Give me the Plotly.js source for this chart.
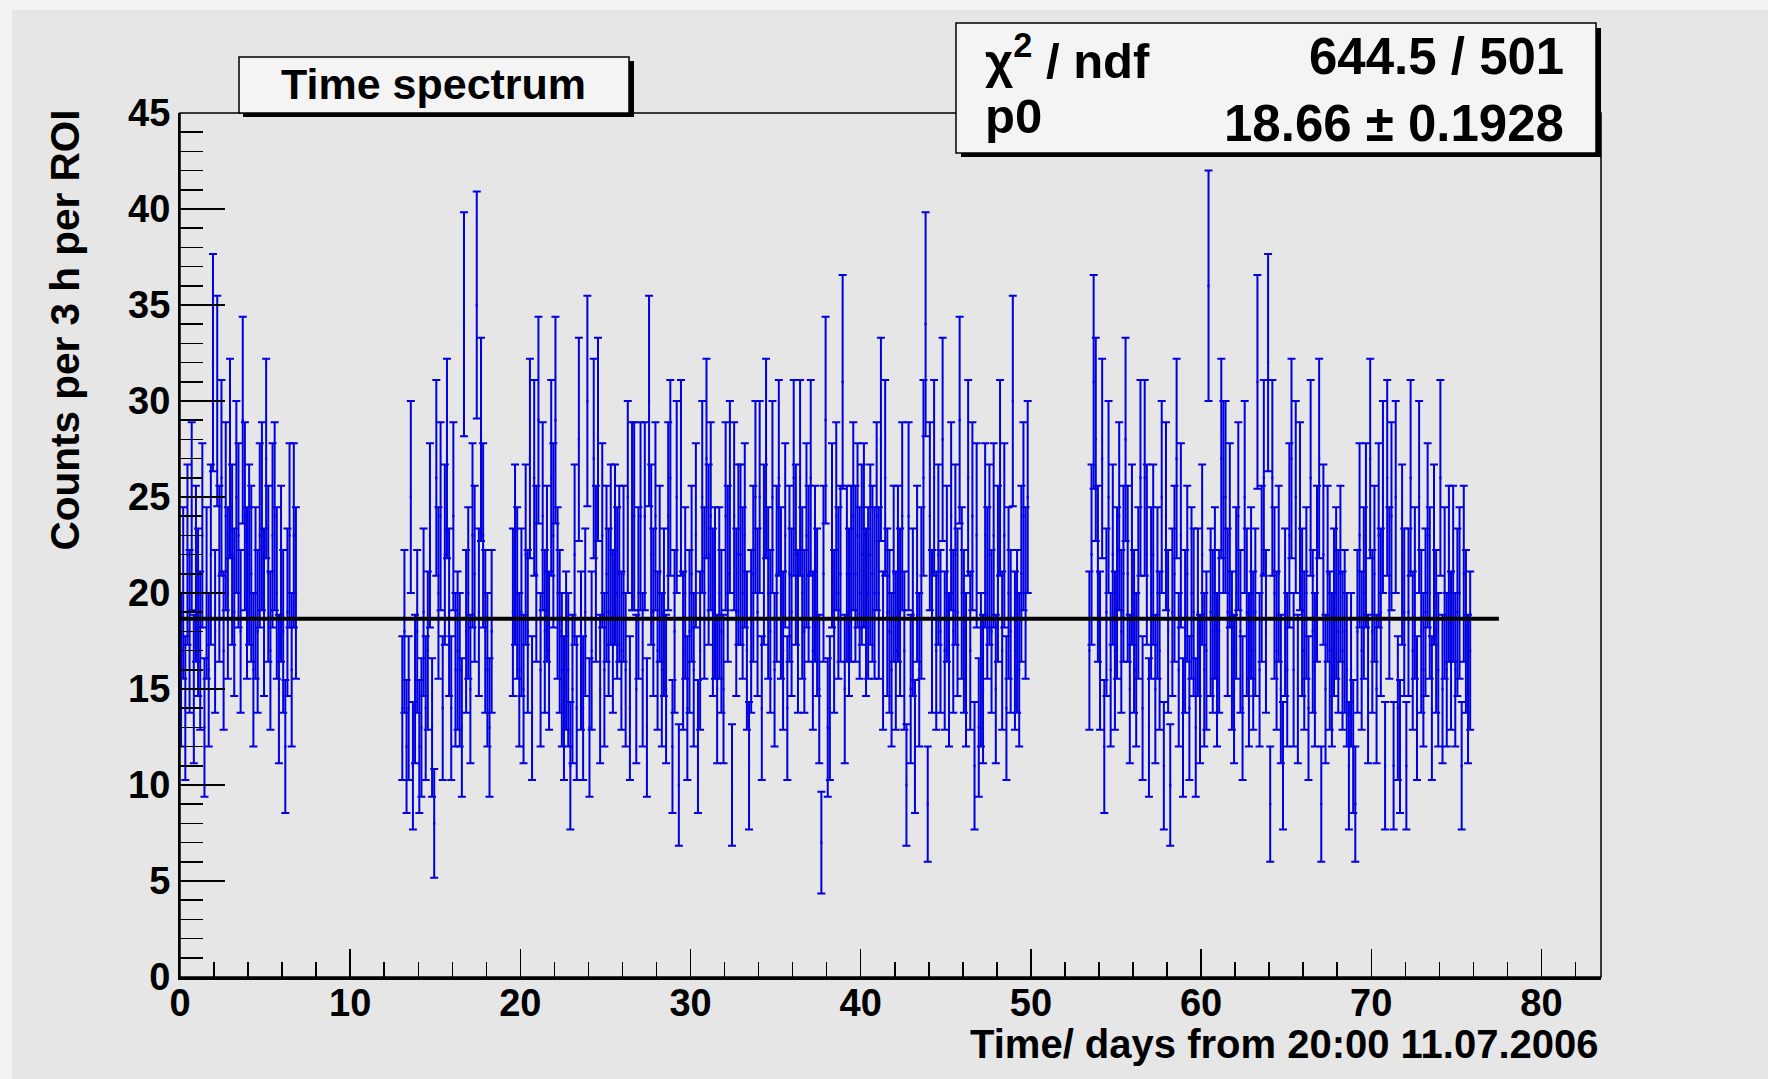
<!DOCTYPE html>
<html>
<head>
<meta charset="utf-8">
<script src="https://cdn.plot.ly/plotly-3.0.1.min.js"></script>
<style>
  html, body { margin: 0; padding: 0; background: #f3f3f3; width: 1768px; height: 1079px; overflow: hidden; }
  #chart { position: absolute; left: 12px; top: 10px; width: 1756px; height: 1069px; }
</style>
</head>
<body>
<div id="chart"></div>
<script>
// ---- Histogram definition (3 h bins) ----
const binWidthDays = 0.125;
// start day of each data-taking period
const segmentStarts = [0, 13.0, 19.5, 53.375];

// counts per 3 h bin (period 1: day 0 - 6.9)
const counts1 = [16,20,14,22,18,24,15,21,19,17, 23,13,20,16,22,32,18,30,21,26,
  17,24,20,27,22,19,25,23,18,29, 24,20,22,21,16,20,18,23,24,19,
  27,21,17,23,24,20,15,21,18,12, 19,23,16,23,20];
// period 2: day 13.0 - 18.4
const counts2 = [14,18,12,14,25,11,15,18,12,13, 19,14,17,23,13,8,26,20,24,14,
  22,27,19,14,24,16,17,16,13,34, 18,20,15,23,21,35,19,28,23,18, 16,13,18];
// period 3: day 19.5 - 49.9
const counts3 = [19,22,20,16,19,15,22,18,27,14, 26,21,29,16,24,18,21,17,26,23,
  29,20,18,16,14,17,16,11,15,22, 14,28,17,14,19,30,13,17,27,21,
  28,15,23,16,21,19,22,18,22,20, 21,17,21,16,25,14,24,24,15,20,
  24,16,24,13,30,22,19,24,17,21, 16,19,15,24,26,12,18,25,10,26,
  17,20,14,18,21,16,23,12,17,25, 20,27,22,24,19,20,15,20,18,15,
  24,21,25,10,24,19,22,22,20,23, 17,11,18,21,25,19,25,14,22,27,
  20,18,25,16,21,26,20,17,23,14, 21,19,26,22,18,26,20,18,23,21,
  26,17,21,19,15,7,21,29,13,14, 23,18,24,20,21,31,15,21,19,21,
  24,21,23,20,22,23,19,20,22,21, 20,24,20,28,17,26,19,18,16,21,
  17,21,19,24,17,10,24,15,19,12, 21,16,20,26,34,9,24,18,26,17,
  22,18,28,17,21,16,24,18,22,19, 29,20,18,16,26,17,24,11,23,13,
  16,15,23,20,22,18,23,15,21,26, 17,23,14,20,18,30,17,18,16,21,
  24,20,25];
// period 4: day 53.4 - 75.9
const counts4 = [17,22,31,28,21,17,27,12,19,25, 16,22,17,20,24,18,21,28,21,15,
  22,18,16,20,26,14,26,22,13,20, 22,15,20,17,25,11,24,18,10,19,
  21,27,16,23,13,18,21,14,20,19, 13,19,15,22,16,17,36,19,18,20,
  16,18,27,25,25,19,23,17,15,20, 24,18,14,25,19,16,20,17,19,31,
  16,21,26,18,32,9,26,20,17,21, 15,11,19,16,23,27,16,25,15,24,
  19,17,20,14,26,18,16,21,27,9, 22,15,21,17,16,19,20,18,21,17,
  18,16,11,16,12,9,18,23,17,20, 23,15,27,18,21,15,23,19,25,11,
  26,20,24,11,25,14,12,22,19,11, 19,26,17,20,14,25,18,16,19,23,
  20,14,22,18,16,26,15,20,16,21, 17,21,16,19,20,11,21,18,15,17];

// constant fit (pol0)
const fitP0 = 18.66;
const fitRange = [0, 77.5];

// texts
const titleText = 'Time spectrum';
const statLabels = ['χ<sup>2</sup> / ndf', 'p0'];
const statValues = ['644.5 / 501', '18.66 ± 0.1928'];
const xTitle = 'Time/ days from 20:00 11.07.2006';
const yTitle = 'Counts per 3 h per ROI';
const xRange = [0, 83.5];
const yRange = [0, 45];

// ---- build bins ----
const segs = [counts1, counts2, counts3, counts4];
const xs = [], ys = [], es = [];
segs.forEach((arr, s) => {
  arr.forEach((n, i) => {
    xs.push(segmentStarts[s] + (i + 0.5) * binWidthDays);
    ys.push(n);
    es.push(Math.sqrt(n));
  });
});

const FONT = '"Liberation Sans", Arial, Helvetica, sans-serif';
const W = 1421, H = 864, X0 = 180, Y0 = 977;
const px = X => (X - X0) / W;
const py = Y => (Y0 - Y) / H;

const dataTrace = {
  type: 'scatter', mode: 'markers', x: xs, y: ys,
  marker: {size: 1, color: 'rgba(0,0,0,0)'},
  error_x: {type: 'constant', value: binWidthDays / 2, width: 0, thickness: 2.6, color: '#0000ff'},
  error_y: {type: 'data', array: es, visible: true, width: 4, thickness: 2, color: '#0000e0'},
  hoverinfo: 'skip', showlegend: false
};
const fitTrace = {
  type: 'scatter', mode: 'lines', x: fitRange, y: [fitP0, fitP0],
  line: {color: '#000000', width: 4}, hoverinfo: 'skip', showlegend: false
};

const boxFill = '#f4f4f4';
const shapes = [
  {type: 'rect', xref: 'paper', yref: 'paper', x0: 0, x1: 1, y0: 0, y1: 1, line: {color: '#000', width: 1.5}, layer: 'above'},
  // title box shadow + box
  {type: 'rect', xref: 'paper', yref: 'paper', x0: px(243), x1: px(634), y0: py(117), y1: py(61), fillcolor: '#000', line: {width: 0}, layer: 'above'},
  {type: 'rect', xref: 'paper', yref: 'paper', x0: px(239), x1: px(629), y0: py(113), y1: py(57), fillcolor: boxFill, line: {color: '#000', width: 1.5}, layer: 'above'},
  // stats box shadow + box
  {type: 'rect', xref: 'paper', yref: 'paper', x0: px(961), x1: px(1601), y0: py(157), y1: py(28), fillcolor: '#000', line: {width: 0}, layer: 'above'},
  {type: 'rect', xref: 'paper', yref: 'paper', x0: px(956), x1: px(1596), y0: py(153), y1: py(23), fillcolor: boxFill, line: {color: '#000', width: 1.5}, layer: 'above'}
];

const bold = (size) => ({family: FONT, size: size, color: '#000', weight: 700});
const annotations = [
  {text: titleText, xref: 'paper', yref: 'paper', x: px(433), y: py(84), xanchor: 'center', yanchor: 'middle', showarrow: false, font: bold(43)},
  {text: statLabels[0], xref: 'paper', yref: 'paper', x: px(983), y: py(57), xanchor: 'left', yanchor: 'middle', showarrow: false, font: bold(49)},
  {text: statValues[0], xref: 'paper', yref: 'paper', x: px(1566), y: py(57), xanchor: 'right', yanchor: 'middle', showarrow: false, font: bold(51)},
  {text: statLabels[1], xref: 'paper', yref: 'paper', x: px(983), y: py(116), xanchor: 'left', yanchor: 'middle', showarrow: false, font: bold(49)},
  {text: statValues[1], xref: 'paper', yref: 'paper', x: px(1566), y: py(123), xanchor: 'right', yanchor: 'middle', showarrow: false, font: bold(51)},
  {text: xTitle, xref: 'paper', yref: 'paper', x: 1, y: py(1044), xanchor: 'right', yanchor: 'middle', showarrow: false, font: bold(40)},
  {text: yTitle, xref: 'paper', yref: 'paper', x: px(64), y: py(108), xanchor: 'center', yanchor: 'top', textangle: -90, showarrow: false, font: bold(40.5)}
];

const layout = {
  width: 1756, height: 1069,
  margin: {l: 168, r: 167, t: 103, b: 102, pad: 0},
  paper_bgcolor: '#e6e6e6', plot_bgcolor: '#e6e6e6',
  showlegend: false,
  xaxis: {
    range: xRange, showgrid: false, zeroline: false,
    showline: true, linecolor: '#000', linewidth: 3,
    ticks: 'inside', ticklen: 28, tickwidth: 1.5, tickcolor: '#000',
    ticklabelstandoff: -10,
    tick0: 0, dtick: 10, tickfont: bold(38),
    minor: {ticks: 'inside', dtick: 2, ticklen: 15, tickwidth: 1.5, tickcolor: '#000'}
  },
  yaxis: {
    range: yRange, showgrid: false, zeroline: false,
    showline: true, linecolor: '#000', linewidth: 2,
    ticks: 'inside', ticklen: 45, tickwidth: 1.5, tickcolor: '#000',
    tick0: 0, dtick: 5, tickfont: bold(38),
    minor: {ticks: 'inside', dtick: 1, ticklen: 23, tickwidth: 1.5, tickcolor: '#000'}
  },
  shapes: shapes,
  annotations: annotations
};

Plotly.newPlot('chart', [dataTrace, fitTrace], layout, {displayModeBar: false, staticPlot: true});
</script>
</body>
</html>
